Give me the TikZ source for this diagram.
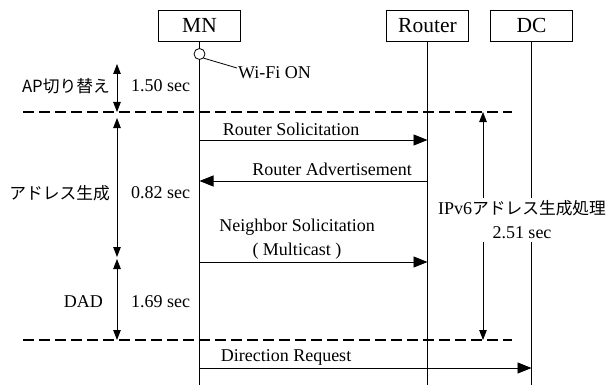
\documentclass[tikz,border=0pt]{standalone}
\usepackage{fontspec}
\setmainfont{Liberation Serif}
\newfontfamily\jp{Noto Sans CJK JP}[Scale=0.93]
\usetikzlibrary{arrows.meta, positioning}

\begin{document}
\begin{tikzpicture}[x=1pt, y=-1pt,
    every node/.style={font=\fontsize{18}{24}\selectfont, inner sep=1pt},
    actor/.style={draw, line width=0.8pt, minimum width=82pt, minimum height=31pt, inner sep=0pt,
        font=\fontsize{21.5}{24}\selectfont},
    life/.style={line width=0.8pt},
    msg/.style={line width=0.8pt, -{Triangle[length=14pt, width=11pt]}},
    span/.style={line width=0.9pt, {Triangle[length=10pt, width=7.5pt]}-{Triangle[length=10pt, width=7.5pt]}},
    phase/.style={line width=2pt, dash pattern=on 11pt off 5pt}]
    \useasboundingbox (0,0) rectangle (612,385);

    % entities
    \node[actor] (MN) at (199.5,25.5) {MN};
    \node[actor] (Router) at (427.5,25.5) {Router};
    \node[actor] (DC) at (531.5,25.5) {DC};

    \coordinate (MNend) at (MN |- 0,385);
    \coordinate (Routerend) at (Router |- 0,385);
    \coordinate (DCend) at (DC |- 0,385);
    \draw[life] (MN) -- (MNend);
    \draw[life] (Router) -- (Routerend);
    \draw[life] (DC) -- (DCend);

    % Wi-Fi ON
    \node[circle, draw, line width=0.8pt, fill=white, minimum size=11pt, inner sep=0pt] (wifi) at (199.5,54) {};
    \node[right] (wifilbl) at (237,73) {Wi-Fi ON};
    \draw[life] (wifi.south east) -- ([yshift=5pt]wifilbl.west);

    % phase borders
    \coordinate (p1L) at (23,112);
    \coordinate (p1R) at (512,112);
    \coordinate (p2L) at (23,340);
    \coordinate (p2R) at (512,340);
    \draw[phase] (p1L) -- (p1R);
    \draw[phase] (p2L) -- (p2R);

    % phases
    \coordinate (ap1) at (117,64);
    \coordinate (ap2) at (117,112);
    \coordinate (ad1) at (117,118);
    \coordinate (ad2) at (117,257);
    \coordinate (dad1) at (117,259);
    \coordinate (dad2) at (117,340);
    \draw[span] (ap1) -- (ap2);
    \draw[span] (ad1) -- (ad2);
    \draw[span] (dad1) -- (dad2);

    \node[left] (apl) at (111,86) {\jp AP切り替え};
    \node[right] (apt) at (130,86) {1.50 sec};
    \node[left] (adl) at (111,193) {\jp アドレス生成};
    \node[right] (adt) at (130,193) {0.82 sec};
    \node[left] (dadl) at (104,302) {DAD};
    \node[right] (dadt) at (130,302) {1.69 sec};

    % messages
    \coordinate (rs1) at (MN |- 0,140);
    \coordinate (rs2) at (Router |- 0,140);
    \coordinate (ra1) at (Router |- 0,181);
    \coordinate (ra2) at (MN |- 0,181);
    \coordinate (ns1) at (MN |- 0,262);
    \coordinate (ns2) at (Router |- 0,262);
    \coordinate (dr1) at (MN |- 0,368);
    \coordinate (dr2) at (DC |- 0,368);
    \draw[msg] (rs1) -- (rs2);
    \draw[msg] (ra1) -- (ra2);
    \draw[msg] (ns1) -- (ns2);
    \draw[msg] (dr1) -- (dr2);

    \node (rsl) at (291,129) {Router Solicitation};
    \node (ral) at (332,169) {Router Advertisement};
    \node[align=center] (nsl) at (297,239) {Neighbor Solicitation\\( Multicast )};
    \node (drl) at (286,357) {Direction Request};

    % total
    \coordinate (tot1) at (483,112);
    \coordinate (tot2) at (483,340);
    \draw[span] (tot1) -- (tot2);
    \node[fill=white, align=center, inner ysep=3pt, inner xsep=0pt] (totl) at (522,220) {IPv6{\jp アドレス生成処理}\\2.51 sec};
\end{tikzpicture}
\end{document}
